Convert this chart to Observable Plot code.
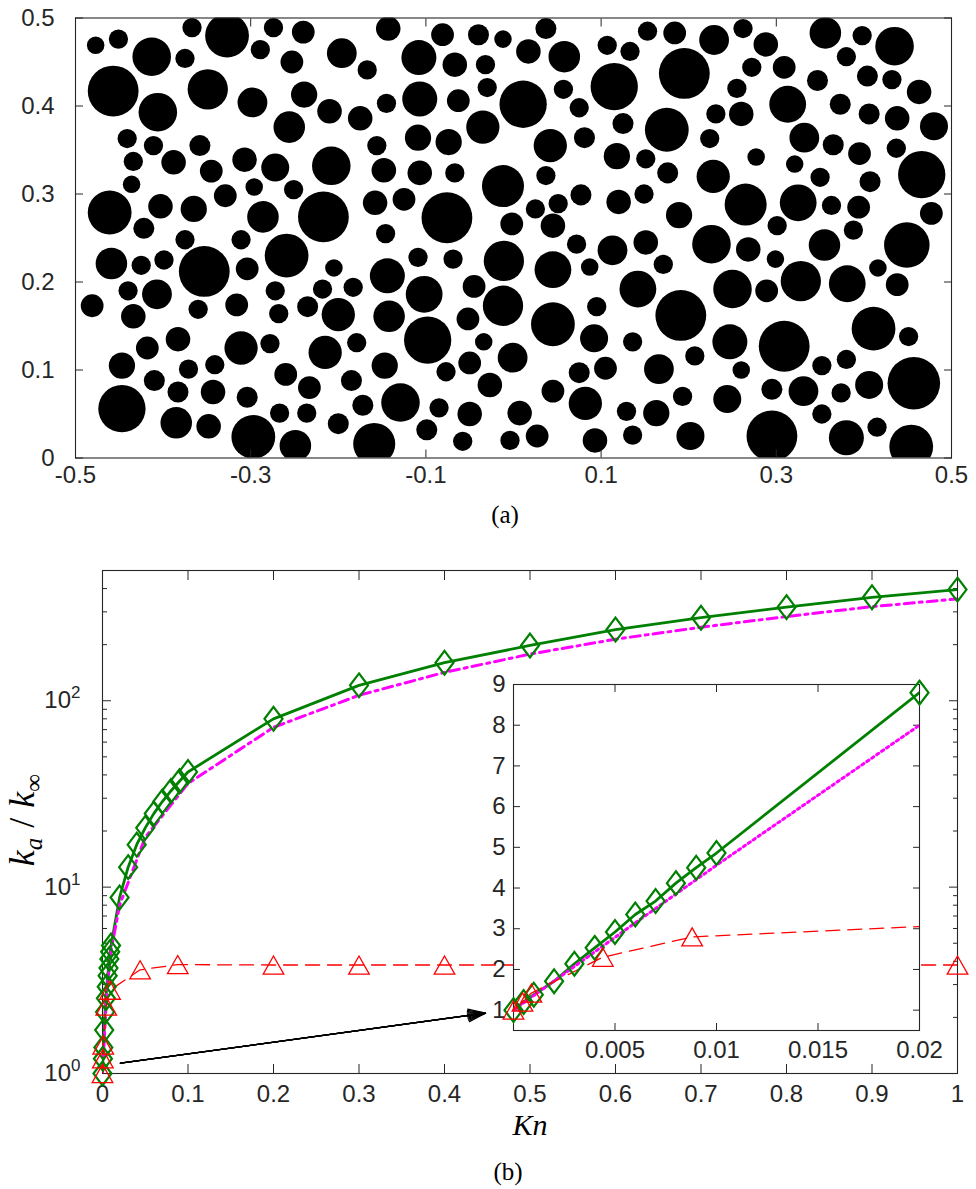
<!DOCTYPE html>
<html>
<head>
<meta charset="utf-8">
<script src="https://cdn.jsdelivr.net/npm/d3@7"></script>
<script src="https://cdn.jsdelivr.net/npm/@observablehq/plot@0.6"></script>
<style>
  html, body { margin: 0; padding: 0; background: #fff; }
  #page { position: relative; width: 976px; height: 1189px; overflow: hidden; background: #fff; }
  .caption { position: absolute; font-family: "Liberation Serif", "DejaVu Serif", serif; font-size: 25px; color: #000; transform: translate(-50%, -50%); white-space: nowrap; }
</style>
</head>
<body>
<div id="page"></div>
<script>
// ---------- (a) obstacle geometry: [x, y, radius] in domain units ----------
const circlesUpperLeft = [
  [-0.477,0.469,0.010],[-0.451,0.476,0.011],[-0.413,0.456,0.022],[-0.367,0.489,0.011],[-0.327,0.480,0.025],[-0.375,0.454,0.011],[-0.289,0.464,0.011],[-0.274,0.489,0.011],[-0.240,0.484,0.013],[-0.253,0.450,0.013],[-0.196,0.460,0.017],[-0.167,0.441,0.011],
  [-0.457,0.417,0.029],[-0.406,0.393,0.022],[-0.349,0.419,0.023],[-0.298,0.404,0.017],[-0.239,0.413,0.015],[-0.256,0.376,0.018],[-0.210,0.394,0.014],[-0.175,0.386,0.014],
  [-0.441,0.363,0.011],[-0.411,0.355,0.011],[-0.358,0.355,0.012],[-0.434,0.337,0.011],[-0.388,0.336,0.014],[-0.345,0.326,0.013],[-0.307,0.339,0.014],[-0.272,0.330,0.016],[-0.208,0.332,0.022],
  [-0.436,0.311,0.010],[-0.329,0.298,0.013],[-0.296,0.308,0.010],[-0.251,0.305,0.011],[-0.461,0.279,0.025],[-0.403,0.286,0.014],[-0.365,0.283,0.015],[-0.286,0.274,0.018],[-0.217,0.274,0.029],[-0.422,0.261,0.012],
  [-0.156,0.355,0.011],[-0.148,0.327,0.014],[-0.158,0.290,0.014]
];
const circlesUpperMiddle = [
  [-0.143,0.488,0.014],[-0.081,0.481,0.013],[-0.040,0.481,0.012],[-0.012,0.476,0.010],[0.037,0.488,0.012],[-0.108,0.455,0.020],[-0.067,0.447,0.014],[-0.032,0.447,0.011],[0.017,0.462,0.014],[0.058,0.456,0.018],[0.107,0.469,0.011],[0.133,0.462,0.011],[0.153,0.485,0.011],
  [-0.145,0.403,0.011],[-0.107,0.408,0.020],[-0.063,0.406,0.013],[-0.030,0.421,0.011],[0.011,0.402,0.027],[0.057,0.419,0.011],[0.075,0.398,0.011],[0.115,0.422,0.027],
  [-0.035,0.376,0.019],[-0.109,0.364,0.015],[-0.074,0.359,0.015],[0.042,0.355,0.019],[0.081,0.364,0.012],[0.125,0.380,0.012],[0.175,0.373,0.025],[0.118,0.343,0.015],[0.151,0.340,0.011],
  [-0.107,0.324,0.014],[-0.067,0.324,0.011],[-0.012,0.309,0.024],[0.037,0.321,0.011],[0.176,0.324,0.012],[-0.125,0.294,0.013],[-0.076,0.273,0.029],[0.025,0.283,0.011],[0.051,0.289,0.011],[0.077,0.299,0.012],[0.120,0.291,0.014],[0.149,0.300,0.011],[-0.002,0.266,0.013],[0.045,0.264,0.014]
];
const circlesUpperRight = [
  [0.184,0.483,0.013],[0.229,0.475,0.017],[0.262,0.488,0.011],[0.288,0.470,0.014],[0.356,0.483,0.018],[0.398,0.480,0.011],[0.435,0.468,0.022],
  [0.195,0.437,0.029],[0.272,0.444,0.011],[0.309,0.444,0.013],[0.380,0.456,0.011],[0.347,0.429,0.012],[0.404,0.434,0.012],[0.432,0.430,0.011],[0.255,0.420,0.011],[0.313,0.402,0.021],[0.373,0.402,0.012],[0.463,0.416,0.014],
  [0.231,0.391,0.011],[0.260,0.391,0.014],[0.406,0.391,0.012],[0.438,0.386,0.014],[0.480,0.377,0.016],[0.224,0.363,0.011],[0.332,0.364,0.017],[0.365,0.356,0.012],[0.395,0.346,0.013],[0.437,0.352,0.011],[0.277,0.342,0.010],[0.321,0.334,0.010],
  [0.228,0.320,0.019],[0.350,0.319,0.011],[0.407,0.314,0.012],[0.466,0.322,0.027],[0.265,0.288,0.024],[0.325,0.290,0.021],[0.363,0.287,0.011],[0.394,0.285,0.013],[0.189,0.276,0.015],[0.477,0.278,0.013],[0.301,0.264,0.011]
];
const circlesLowerLeft = [
  [-0.375,0.248,0.011],[-0.311,0.248,0.011],[-0.459,0.221,0.018],[-0.425,0.219,0.011],[-0.399,0.225,0.011],[-0.353,0.212,0.029],[-0.304,0.215,0.013],[-0.259,0.230,0.025],[-0.205,0.216,0.010],
  [-0.440,0.190,0.011],[-0.407,0.186,0.017],[-0.481,0.173,0.013],[-0.434,0.161,0.014],[-0.360,0.169,0.011],[-0.316,0.174,0.013],[-0.272,0.190,0.011],[-0.268,0.164,0.011],[-0.235,0.172,0.012],[-0.218,0.192,0.011],[-0.200,0.163,0.019],[-0.183,0.194,0.011],
  [-0.383,0.135,0.014],[-0.418,0.125,0.013],[-0.311,0.125,0.019],[-0.278,0.130,0.011],[-0.215,0.120,0.019],[-0.179,0.131,0.011],[-0.447,0.105,0.015],[-0.371,0.101,0.011],[-0.341,0.106,0.011],[-0.410,0.088,0.012],[-0.260,0.095,0.013],[-0.233,0.080,0.013],[-0.185,0.088,0.012],
  [-0.383,0.075,0.012],[-0.343,0.075,0.014],[-0.304,0.069,0.012],[-0.447,0.056,0.027],[-0.172,0.060,0.012],[-0.267,0.051,0.011],[-0.236,0.051,0.011],[-0.385,0.040,0.018],[-0.348,0.036,0.014],[-0.297,0.024,0.025],[-0.249,0.014,0.018],[-0.200,0.039,0.012]
];
const circlesLowerMiddle = [
  [-0.146,0.255,0.011],[0.072,0.243,0.011],[0.113,0.236,0.017],[0.151,0.245,0.014],[-0.109,0.228,0.011],[-0.069,0.226,0.011],[-0.011,0.224,0.023],[0.045,0.214,0.021],[0.087,0.217,0.010],
  [-0.144,0.207,0.020],[-0.102,0.186,0.021],[-0.045,0.195,0.013],[-0.012,0.173,0.023],[0.142,0.192,0.021],[0.171,0.220,0.011],[-0.142,0.161,0.018],[-0.052,0.158,0.013],[0.045,0.152,0.025],[0.095,0.172,0.011],
  [-0.098,0.134,0.027],[-0.034,0.132,0.010],[0.092,0.136,0.016],[0.136,0.132,0.011],[-0.147,0.105,0.015],[-0.077,0.098,0.011],[-0.050,0.108,0.013],[-0.001,0.114,0.017],[0.075,0.097,0.012],[0.105,0.102,0.013],[0.166,0.101,0.017],
  [-0.027,0.083,0.014],[0.045,0.076,0.013],[-0.129,0.063,0.022],[-0.085,0.057,0.011],[-0.050,0.050,0.014],[0.007,0.051,0.014],[0.082,0.062,0.019],[0.129,0.053,0.011],[0.163,0.051,0.015],
  [-0.099,0.032,0.012],[-0.058,0.019,0.011],[-0.004,0.020,0.011],[0.027,0.025,0.013],[0.093,0.020,0.014],[0.136,0.026,0.011],[-0.159,0.016,0.024]
];
const circlesLowerRight = [
  [0.226,0.243,0.022],[0.268,0.237,0.014],[0.299,0.226,0.010],[0.355,0.242,0.018],[0.388,0.259,0.011],[0.449,0.242,0.026],
  [0.250,0.192,0.022],[0.289,0.190,0.013],[0.328,0.201,0.023],[0.381,0.198,0.021],[0.416,0.216,0.010],[0.438,0.197,0.013],
  [0.191,0.162,0.029],[0.247,0.132,0.020],[0.309,0.127,0.029],[0.411,0.147,0.025],[0.451,0.138,0.011],[0.207,0.116,0.011],[0.260,0.100,0.010],[0.352,0.105,0.011],[0.380,0.112,0.011],[0.457,0.085,0.030],
  [0.193,0.070,0.011],[0.244,0.067,0.016],[0.295,0.078,0.012],[0.331,0.076,0.017],[0.374,0.074,0.011],[0.406,0.083,0.016],[0.352,0.050,0.011],[0.202,0.025,0.016],[0.295,0.025,0.029],[0.380,0.023,0.020],[0.415,0.035,0.011],[0.454,0.013,0.025]
];
const geomXTicks = [-0.5, -0.3, -0.1, 0.1, 0.3, 0.5];
const geomYTicks = [0, 0.1, 0.2, 0.3, 0.4, 0.5];

// ---------- (b) apparent permeability ratio versus Knudsen number ----------
const knGreen    = [0, 0.0005, 0.001, 0.002, 0.003, 0.004, 0.005, 0.006, 0.007, 0.008, 0.009, 0.01, 0.02, 0.03, 0.04, 0.05, 0.06, 0.07, 0.08, 0.09, 0.1, 0.2, 0.3, 0.4, 0.5, 0.6, 0.7, 0.8, 0.9, 1];
const ratioGreen = [1.0, 1.2, 1.38, 1.71, 2.14, 2.53, 2.92, 3.35, 3.68, 4.12, 4.50, 4.86, 8.8, 12.8, 16.9, 20.8, 24.8, 28.8, 32.8, 37.0, 41.5, 80, 121, 160, 198, 241, 279, 318, 359, 395];
const knMagenta    = [0, 0.005, 0.01, 0.02, 0.05, 0.1, 0.2, 0.3, 0.4, 0.5, 0.6, 0.7, 0.8, 0.9, 1];
const ratioMagenta = [1, 2.79, 4.56, 8.0, 18.5, 36, 72, 107, 142, 178, 214, 248, 283, 320, 352];
const knRed    = [0, 0.00044, 0.00088, 0.0044, 0.0088, 0.044, 0.088, 0.2, 0.3, 0.4, 1];
const ratioRed = [1.0, 1.2, 1.42, 2.3, 2.8, 3.6, 3.84, 3.82, 3.82, 3.82, 3.82];
const mainXTicks = [0, 0.1, 0.2, 0.3, 0.4, 0.5, 0.6, 0.7, 0.8, 0.9, 1];
const mainYMajor = [1, 10, 100];
const mainYMinor = [2, 3, 4, 5, 6, 7, 8, 9, 20, 30, 40, 50, 60, 70, 80, 90, 200, 300, 400];
const insetXTicks = [0, 0.005, 0.01, 0.015, 0.02];
const insetYTicks = [1, 2, 3, 4, 5, 6, 7, 8, 9];
// pointer from the small-Kn region of the main axes to the zoomed view
const zoomPointer = [{kn1: 0.021, r1: 1.136, kn2: 0.448, r2: 2.11}];

const AXIS = "#262626";
const GREEN = "#008000", MAGENTA = "#ff00ff", RED = "#ff0000";
const tickFont = "'Liberation Sans', Arial, Helvetica, sans-serif";
const serifFont = "'Liberation Serif', 'DejaVu Serif', serif";
const TICK_PX = 24;

const toRows = (xs, ys) => xs.map((x, i) => ({kn: x, ratio: ys[i]}));
const green = toRows(knGreen, ratioGreen);
const magenta = toRows(knMagenta, ratioMagenta);
const red = toRows(knRed, ratioRed);
const circles = [...circlesUpperLeft, ...circlesUpperMiddle, ...circlesUpperRight,
                 ...circlesLowerLeft, ...circlesLowerMiddle, ...circlesLowerRight]
  .map(([x, y, r]) => ({x, y, r}));

// open marker outlines
const diamondShape = {
  draw(ctx, size) {
    const r = Math.sqrt(size / Math.PI), w = r, h = r * 1.32;
    ctx.moveTo(0, -h); ctx.lineTo(w, 0); ctx.lineTo(0, h); ctx.lineTo(-w, 0); ctx.closePath();
  }
};
const triangleShape = {
  draw(ctx, size) {
    const r = Math.sqrt(size / Math.PI), w = r, h = r * 0.88;
    ctx.moveTo(0, -h); ctx.lineTo(w, h); ctx.lineTo(-w, h); ctx.closePath();
  }
};

const page = document.getElementById("page");
function place(node, left, top) {
  node.style.position = "absolute";
  node.style.left = left + "px";
  node.style.top = top + "px";
  page.appendChild(node);
  return node;
}
function caption(text, cx, cy) {
  const d = document.createElement("div");
  d.className = "caption";
  d.textContent = text;
  d.style.left = cx + "px";
  d.style.top = cy + "px";
  page.appendChild(d);
}
const fmt = d => String(d);
const blank = () => "";
const axisStyle = {stroke: AXIS, fill: AXIS, fontSize: TICK_PX, fontFamily: tickFont, label: null};

// ---------- panel (a) ----------
const geomWidth = 976, geomLeft = 75, geomRight = 25;
const pxPerUnit = geomWidth - geomLeft - geomRight; // x spans one unit
const geom = Plot.plot({
  width: geomWidth, height: 500,
  marginLeft: geomLeft, marginRight: geomRight, marginTop: 17.5, marginBottom: 42.5,
  style: {fontFamily: tickFont, fontSize: TICK_PX + "px", color: AXIS, background: "transparent"},
  x: {domain: [-0.5, 0.5], label: null},
  y: {domain: [0, 0.5], label: null},
  r: {type: "linear", domain: [0, 0.05], range: [0, 0.05 * pxPerUnit]},
  marks: [
    Plot.dot(circles, {x: "x", y: "y", r: "r", fill: "black", clip: true}),
    Plot.frame({stroke: AXIS, strokeWidth: 1.1}),
    Plot.axisX(geomXTicks, {...axisStyle, anchor: "bottom", tickSize: -8, tickPadding: 15.5, tickFormat: fmt}),
    Plot.axisX(geomXTicks, {...axisStyle, anchor: "top", tickSize: -8, tickFormat: blank}),
    Plot.axisY(geomYTicks, {...axisStyle, anchor: "left", tickSize: -8, tickPadding: 29, tickFormat: fmt}),
    Plot.axisY(geomYTicks, {...axisStyle, anchor: "right", tickSize: -8, tickFormat: blank})
  ]
});
place(geom, 0, 0);
caption("(a)", 505, 515);

// ---------- panel (b): main axes ----------
const lineMarks = (data, opts = {}) => [
  Plot.line(data.g, {x: "kn", y: "ratio", stroke: GREEN, strokeWidth: 2.8, clip: true}),
  Plot.line(data.m, {x: "kn", y: "ratio", stroke: MAGENTA, strokeWidth: 3, strokeDasharray: opts.magentaDash, clip: true}),
  Plot.line(data.r, {x: "kn", y: "ratio", stroke: RED, strokeWidth: 1.3, strokeDasharray: "14 8", clip: true}),
  Plot.dot(data.gd, {x: "kn", y: "ratio", symbol: diamondShape, r: 9, stroke: GREEN, strokeWidth: 2.2, fill: "none"}),
  Plot.dot(data.rd, {x: "kn", y: "ratio", symbol: triangleShape, r: 10.3, stroke: RED, strokeWidth: 1.3, fill: "none"})
];

const main = Plot.plot({
  width: 976, height: 610,
  marginLeft: 102, marginRight: 19, marginTop: 30, marginBottom: 77,
  style: {fontFamily: tickFont, fontSize: TICK_PX + "px", color: AXIS, background: "transparent"},
  x: {domain: [0, 1], label: null},
  y: {type: "log", domain: [1, 500], label: null},
  marks: [
    Plot.frame({stroke: AXIS, strokeWidth: 1.1}),
    Plot.axisX(mainXTicks, {...axisStyle, anchor: "bottom", tickSize: -9, tickPadding: 20, tickFormat: fmt}),
    Plot.axisX(mainXTicks, {...axisStyle, anchor: "top", tickSize: -9, tickFormat: blank}),
    Plot.axisY(mainYMajor, {...axisStyle, anchor: "left", tickSize: -9, tickPadding: 31, tickFormat: d => "10^" + Math.round(Math.log10(d))}),
    Plot.axisY(mainYMinor, {...axisStyle, anchor: "left", tickSize: -5, tickFormat: blank}),
    Plot.axisY(mainYMajor, {...axisStyle, anchor: "right", tickSize: -9, tickFormat: blank}),
    Plot.axisY(mainYMinor, {...axisStyle, anchor: "right", tickSize: -5, tickFormat: blank}),
    ...lineMarks({g: green, m: magenta, r: red, gd: green, rd: red}, {magentaDash: "10 5 3 5"}),
    ...[8, 16, 24, 32, 40].map(a => Plot.arrow(zoomPointer, {x1: "kn1", y1: "r1", x2: "kn2", y2: "r2", stroke: "black", strokeWidth: 1.3, headLength: 21, headAngle: a})),
    Plot.text(["Kn"], {frameAnchor: "bottom", dy: 61, text: d => d, fontFamily: serifFont, fontStyle: "italic", fontSize: 30, fill: "black"})
  ]
});
// superscript exponents on the decade labels
d3.select(main).selectAll('[aria-label="y-axis tick label"] text').each(function () {
  const m = /^10\^(\d+)$/.exec(this.textContent);
  if (!m) return;
  const t = d3.select(this);
  t.text("10");
  t.append("tspan").attr("dy", "-0.6em").attr("font-size", "17px").text(m[1]);
});
// y-axis title k_a / k_inf
{
  const yl = d3.select(main).append("text")
    .attr("transform", "translate(34,280) rotate(-90)")
    .attr("text-anchor", "middle")
    .attr("font-family", serifFont)
    .attr("font-size", 36)
    .attr("font-style", "italic")
    .attr("fill", "black");
  yl.append("tspan").text("k");
  yl.append("tspan").attr("font-size", 25).attr("dy", 8).text("a");
  yl.append("tspan").attr("dy", -8).attr("dx", 10).attr("font-style", "normal").text("/");
  yl.append("tspan").attr("dx", 10).text("k");
  yl.append("tspan").attr("font-size", 25).attr("dy", 8).attr("font-style", "normal").text("∞");
}
place(main, 0, 540);
caption("(b)", 508, 1172);

// ---------- panel (b): zoomed inset ----------
const inset = Plot.plot({
  width: 520, height: 410,
  marginLeft: 63, marginRight: 51, marginTop: 20, marginBottom: 44,
  style: {fontFamily: tickFont, fontSize: TICK_PX + "px", color: AXIS, background: "transparent"},
  x: {domain: [0, 0.02], label: null},
  y: {domain: [0.5, 9], label: null},
  marks: [
    Plot.frame({fill: "white", stroke: AXIS, strokeWidth: 1.1}),
    Plot.axisX(insetXTicks, {...axisStyle, anchor: "bottom", tickSize: -7, tickPadding: 17, tickFormat: d => d === 0 ? "" : String(d)}),
    Plot.axisX(insetXTicks, {...axisStyle, anchor: "top", tickSize: -7, tickFormat: blank}),
    Plot.axisY(insetYTicks, {...axisStyle, anchor: "left", tickSize: -7, tickPadding: 15, tickFormat: fmt}),
    Plot.axisY(insetYTicks, {...axisStyle, anchor: "right", tickSize: -7, tickFormat: blank}),
    ...lineMarks({
      g: green.filter(d => d.kn <= 0.02),
      m: magenta.filter(d => d.kn <= 0.02),
      r: red.filter(d => d.kn <= 0.05),
      gd: green.filter(d => d.kn <= 0.02),
      rd: red.filter(d => d.kn <= 0.02)
    }, {magentaDash: "2.5 3.5"})
  ]
});
place(inset, 450, 664);
</script>
</body>
</html>
